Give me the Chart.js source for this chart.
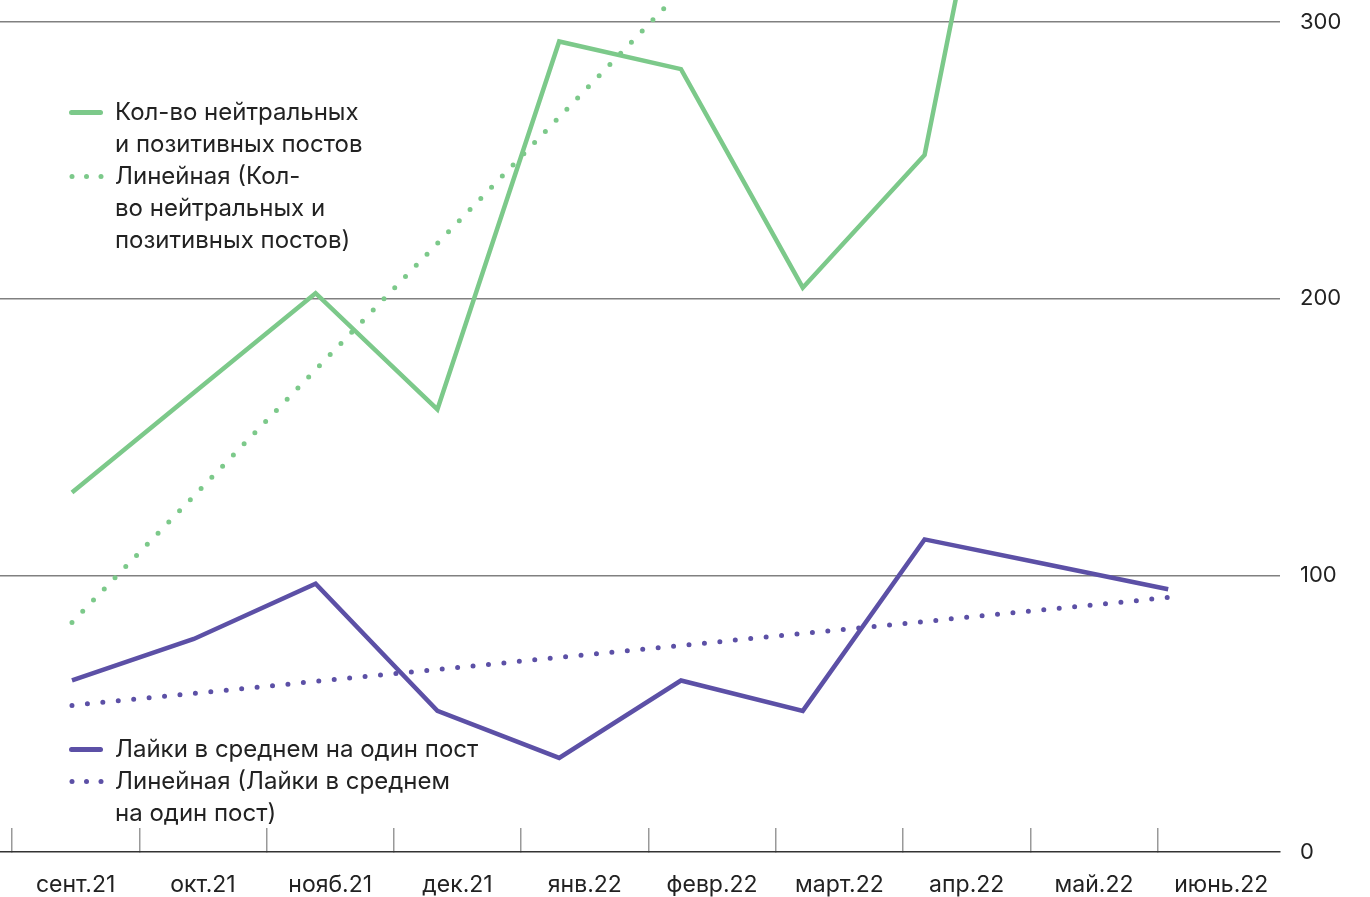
<!DOCTYPE html>
<html>
<head>
<meta charset="utf-8">
<script src="https://cdn.jsdelivr.net/npm/chart.js@4"></script>
<style>
  html, body { margin: 0; padding: 0; background: #fff; }
  #wrap { position: relative; width: 1370px; height: 897px; }
  .legend { position: absolute; font-family: Inter, "Noto Sans", sans-serif; font-size: 24px; line-height: 32px; color: #222; }
  .legend .item { position: relative; padding-left: 46px; }
  .legend .swatch { position: absolute; left: 0; top: 14px; width: 34px; height: 5px; border-radius: 3px; }
  .legend .dots { position: absolute; left: 0; top: 14px; width: 36px; height: 5px; }
</style>
</head>
<body>
<div id="wrap">
  <canvas id="chart" width="1370" height="897"></canvas>
  <div class="legend" id="legendTop" style="left:69px; top:96px;"></div>
  <div class="legend" id="legendBottom" style="left:69px; top:733px;"></div>
</div>
<script>
const months = ["сент.21", "окт.21", "нояб.21", "дек.21", "янв.22", "февр.22", "март.22", "апр.22", "май.22", "июнь.22"];
const positivePosts = [130, 166, 202, 160, 293, 283, 204, 252, 472, 480];
const avgLikes = [62, 77, 97, 51, 34, 62, 51, 113, 104, 95];
// trend lines, start and end values
const positiveTrend = [83, 494];
const likesTrend = [53, 92];
const yTicks = [0, 100, 200, 300];

const green = "#7cc98a";
const purple = "#5c50a6";

function points(values) {
  return values.map((v, i) => ({ x: i, y: v }));
}
function trend(ends) {
  return [{ x: 0, y: ends[0] }, { x: months.length - 1, y: ends[1] }];
}

// legends as html
function dotsSvg(color) {
  return '<svg class="dots" viewBox="0 0 36 5"><circle cx="3" cy="2.5" r="2.5" fill="' + color + '"/>' +
    '<circle cx="17.5" cy="2.5" r="2.5" fill="' + color + '"/><circle cx="32" cy="2.5" r="2.5" fill="' + color + '"/></svg>';
}
function buildLegend(el, items) {
  el.innerHTML = items.map(it =>
    '<div class="item">' + (it.dotted ? dotsSvg(it.color) : '<span class="swatch" style="background:' + it.color + '"></span>') +
    it.text + '</div>').join("");
}
buildLegend(document.getElementById("legendTop"), [
  { color: green, text: "Кол-во нейтральных<br>и позитивных постов" },
  { color: green, dotted: true, text: "Линейная (Кол-<br>во нейтральных и<br>позитивных постов)" }
]);
buildLegend(document.getElementById("legendBottom"), [
  { color: purple, text: "Лайки в среднем на один пост" },
  { color: purple, dotted: true, text: "Линейная (Лайки в среднем<br>на один пост)" }
]);

const ctx = document.getElementById("chart").getContext("2d");

new Chart(ctx, {
  type: "line",
  data: {
    datasets: [
      {
        label: "Кол-во нейтральных и позитивных постов",
        data: points(positivePosts),
        borderColor: green,
        borderWidth: 4.5,
        pointRadius: 0,
        tension: 0,
      },
      {
        label: "Линейная (Кол-во нейтральных и позитивных постов)",
        data: trend(positiveTrend),
        borderColor: green,
        borderWidth: 5,
        borderDash: [0, 15.5],
        borderCapStyle: "round",
        pointRadius: 0,
      },
      {
        label: "Лайки в среднем на один пост",
        data: points(avgLikes),
        borderColor: purple,
        borderWidth: 4.5,
        pointRadius: 0,
        tension: 0,
      },
      {
        label: "Линейная (Лайки в среднем на один пост)",
        data: trend(likesTrend),
        borderColor: purple,
        borderWidth: 5,
        borderDash: [0, 15.5],
        borderCapStyle: "round",
        pointRadius: 0,
      },
    ],
  },
  options: {
    responsive: false,
    animation: false,
    layout: { padding: 0 },
    plugins: {
      legend: { display: false },
      tooltip: { enabled: false },
    },
    scales: {
      // hidden scale the data points sit on
      x: {
        type: "linear",
        display: false,
        min: -0.591,
        max: 9.918,
      },
      // visible month axis
      months: {
        type: "linear",
        position: "bottom",
        min: -0.594,
        max: 9.461,
        afterBuildTicks: function (scale) {
          scale.ticks = months.map((m, i) => ({ value: i }));
        },
        afterFit: function (scale) {
          scale.height = 45;
          scale.paddingLeft = 0;
          scale.paddingRight = 0;
        },
        grid: {
          offset: true,
          drawOnChartArea: false,
          drawTicks: true,
          tickLength: -24,
          color: "#999",
          lineWidth: 1.5,
        },
        border: { display: true, color: "#333", width: 1.5 },
        ticks: {
          padding: 43,
          autoSkip: false,
          maxRotation: 0,
          color: "#222",
          font: { family: "Inter", size: 23 },
          callback: function (value) {
            return months[Math.round(value)];
          },
        },
      },
      y: {
        position: "right",
        min: 0,
        max: 308,
        afterBuildTicks: function (scale) {
          scale.ticks = yTicks.map(v => ({ value: v }));
        },
        afterFit: function (scale) {
          scale.width = 90;
          scale.paddingTop = 0;
          scale.paddingBottom = 0;
        },
        grid: {
          drawTicks: false,
          color: function (c) {
            return c.tick && c.tick.value === 0 ? "rgba(0,0,0,0)" : "#808080";
          },
          lineWidth: 1.5,
        },
        border: { display: false },
        ticks: {
          padding: 20,
          color: "#222",
          font: { family: "Inter", size: 22 },
        },
      },
    },
  },
});
</script>
</body>
</html>
